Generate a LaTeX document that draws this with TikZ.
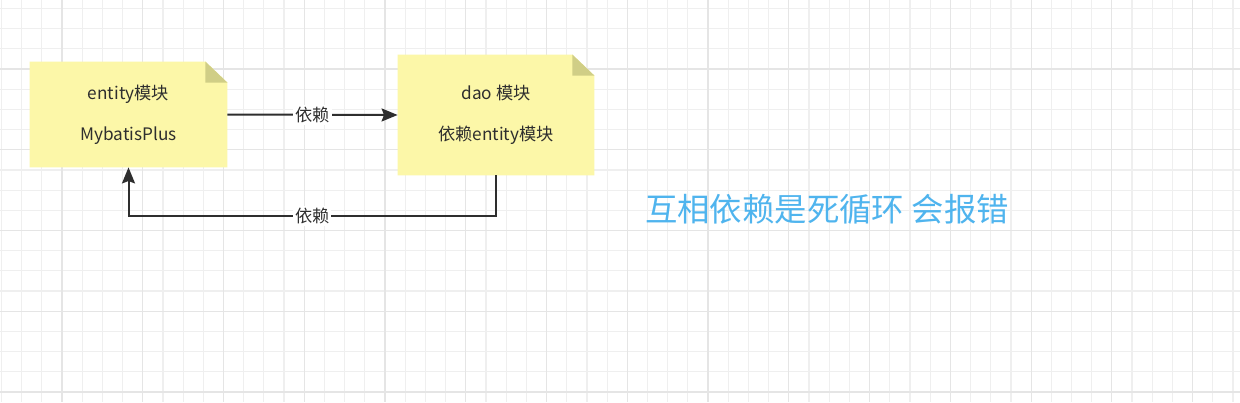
\documentclass[tikz,border=0pt]{standalone}
\usepackage{fontspec}
\setmainfont{Noto Sans CJK SC}
\usetikzlibrary{positioning,calc,arrows.meta,backgrounds}

\definecolor{notefill}{HTML}{FCF7A8}
\definecolor{notefold}{HTML}{D0CE86}
\definecolor{inkgray}{HTML}{2E2E2E}
\definecolor{hintblue}{HTML}{4FB4EE}
\definecolor{gridminor}{HTML}{EFEFEF}
\definecolor{gridmajor}{HTML}{E5E5E5}

\pgfdeclarelayer{paper}
\pgfsetlayers{paper,background,main}

\begin{document}
\begin{tikzpicture}[
  x=0.5pt, y=-0.5pt,
  font=\fontsize{8.6}{20.5}\selectfont,
  note/.style  = {align=center, text=inkgray, inner sep=0pt},
  dep/.style   = {-{Stealth[length=8pt,width=6.5pt,inset=1.2pt]}, draw=inkgray,
                  line width=1pt},
  lbl/.style   = {fill=white, text=inkgray, inner sep=1pt},
  minor/.style = {draw=gridminor, line width=0.6pt},
  major/.style = {draw=gridmajor, line width=0.6pt},
]
\useasboundingbox (0,0) rectangle (1240,402);

%% ==== grid paper ===========================================================
\begin{pgfonlayer}{paper}
  \fill[white] (0,0) rectangle (1240,402);
  \foreach \k in {0,...,61}
    \draw[minor] ({1.4+20.19*\k},0) -- ({1.4+20.19*\k},402);
  \foreach \k in {0,...,19}
    \draw[minor] (0,{8.4+20.19*\k}) -- (1240,{8.4+20.19*\k});
  \foreach \k in {3,7,...,59}
    \draw[major] ({1.4+20.19*\k},0) -- ({1.4+20.19*\k},402);
  \foreach \k in {3,7,...,19}
    \draw[major] (0,{8.4+20.19*\k}) -- (1240,{8.4+20.19*\k});
\end{pgfonlayer}

%% ==== the two modules ======================================================
\node[note, minimum width=98.5pt, minimum height=52.5pt] (ent) at (128.5,114.5)
  {entity模块\\MybatisPlus};
\node[note, minimum width=98pt, minimum height=60pt] (dao) at (496,115)
  {dao 模块\\依赖entity模块};

%% ==== note paper with folded corner ========================================
\begin{scope}[on background layer]
  \foreach \n in {ent,dao} {
    \fill[notefill] (\n.south west) |- ($(\n.north east)+(-22,0)$)
      -- ($(\n.north east)+(0,21)$) |- cycle;
    \fill[notefold] ($(\n.north east)+(-22,0)$) -- ($(\n.north east)+(-22,21)$)
      -- ($(\n.north east)+(0,21)$) -- cycle;
  }
\end{scope}

%% ==== dependencies =========================================================
\draw[dep] (ent.east) -- node[lbl] {依赖} (dao.west);
\coordinate (bend) at ($(dao.south)+(0,41)$);
\draw[dep] (dao.south) -- (bend) -| node[lbl, pos=0.25] {依赖} (ent.south);

%% ==== remark ===============================================================
\node[text=hintblue, font=\fontsize{16.2}{18}\selectfont] (hint) at (827,209)
  {互相依赖是死循环 会报错};

\end{tikzpicture}
\end{document}
